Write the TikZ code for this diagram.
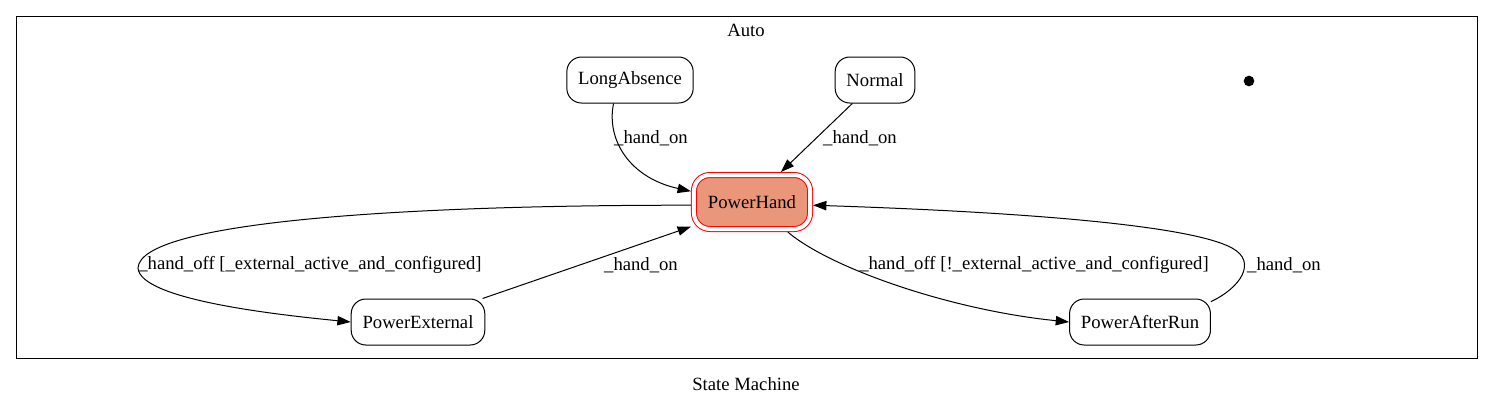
\documentclass[tikz,border=0pt]{standalone}
\usepackage{fontspec}
\setmainfont{Liberation Serif}
\usepackage{tikz}
\usetikzlibrary{arrows.meta}
\definecolor{handfill}{HTML}{E9967A}
\newcommand{\evOn}{\_hand\_on}
\newcommand{\evOff}[1]{\_hand\_off [#1\_external\_active\_and\_configured]}
\tikzstyle{state} = [rectangle, draw, rounded corners=11pt, minimum height=34.5pt, inner xsep=8.5pt, line width=0.75pt, font=\fontsize{14}{17}\selectfont]
\tikzstyle{active} = [state, draw=red, fill=handfill, double=white, double distance=3pt, rounded corners=12pt, minimum height=40.5pt, inner xsep=10.5pt, outer sep=2.25pt]
\tikzstyle{trans} = [-{Triangle[length=10pt, width=7pt]}, line width=0.75pt]
\tikzstyle{transLabel} = [font=\fontsize{14}{17}\selectfont]

\begin{document}
\begin{tikzpicture}[x=0.75pt, y=-0.75pt]
    \useasboundingbox (0,0) rectangle (1493,405);

    % Cluster
    \draw[line width=0.75pt] (16,16) rectangle (1477,358);
    \node[transLabel] (auto) at (746,30) {Auto};
    \node[transLabel] (title) at (746,384) {State Machine};

    % States
    \node[state] (la) at (630,80) {LongAbsence};
    \node[state] (nm) at (875,80) {Normal};
    \node[circle, fill, inner sep=0pt, minimum size=8pt] (init) at (1249,81) {};
    \node[active] (ph) at (752,202) {PowerHand};
    \node[state] (pe) at (418,322) {PowerExternal};
    \node[state] (par) at (1140,322) {PowerAfterRun};

    % Transitions into PowerHand
    \draw[trans] (la.235) .. controls (606,140) and (630,178) .. (ph.170) node[transLabel] at (651,138) {\evOn};
    \draw[trans] (nm.226) -- (ph.46) node[transLabel] at (860,138) {\evOn};
    \draw[trans] (pe.20) -- (ph.202) node[transLabel] at (641,265) {\evOn};
    \draw[trans] (par.16) .. controls (1240,288) and (1258,262) .. (1232,248)
        .. controls (1190,225) and (1020,212) .. (ph.357) node[transLabel] at (1284,265) {\evOn};

    % Transitions out of PowerHand
    \draw[trans] (ph.183) .. controls (400,205) and (140,222) .. (138,268)
        .. controls (140,300) and (280,315) .. (pe.west) node[transLabel] at (310,265) {\evOff{}};
    \draw[trans] (ph.320) .. controls (830,268) and (950,310) .. (par.west) node[transLabel] at (1034,265) {\evOff{!}};
\end{tikzpicture}
\end{document}
